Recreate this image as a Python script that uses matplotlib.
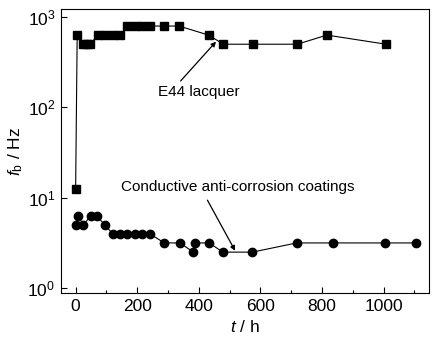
import numpy as np
import matplotlib
matplotlib.use("Agg")
import matplotlib.pyplot as plt

plt.rcParams['font.family'] = ['Liberation Sans', 'DejaVu Sans']
plt.rcParams['mathtext.fontset'] = 'custom'
plt.rcParams['mathtext.rm'] = 'Liberation Sans'
plt.rcParams['mathtext.it'] = 'Liberation Sans:italic'

# E44 lacquer (squares)
t_lacquer = [0, 5, 24, 36, 48, 72, 96, 120, 144, 168, 192, 216, 240,
             288, 336, 432, 480, 576, 720, 816, 1008]
f_lacquer = [12.6, 631, 500, 500, 500, 631, 631, 631, 631, 794, 794, 794, 794,
             794, 794, 631, 500, 500, 500, 631, 500]

# Conductive anti-corrosion coatings (circles)
t_coat = [0, 8, 25, 49, 68, 95, 120, 144, 168, 192, 216, 240,
          288, 339, 382, 387, 434, 478, 574, 718, 837, 1006, 1104]
f_coat = [5.0, 6.3, 5.0, 6.3, 6.3, 5.0, 4.0, 4.0, 4.0, 4.0, 4.0, 4.0,
          3.16, 3.16, 2.5, 3.16, 3.16, 2.5, 2.5, 3.16, 3.16, 3.16, 3.16]

fig = plt.figure(figsize=(4.41, 3.42), dpi=100)
ax = fig.add_axes([0.138, 0.143, 0.835, 0.831])

ax.plot(t_lacquer, f_lacquer, 's-', color='black', lw=0.8, ms=5.4)
ax.plot(t_coat, f_coat, 'o-', color='black', lw=0.8, ms=6)

ax.set_yscale('log')
ax.set_xlim(-48, 1148)
ax.set_ylim(0.88, 1230)
ax.set_xticks([0, 200, 400, 600, 800, 1000])
ax.set_xticks(np.arange(100, 1200, 200), minor=True)
ax.set_yticks([1, 10, 100, 1000])
ax.set_yticklabels([r'$10^{0}$', r'$10^{1}$', r'$10^{2}$', r'$10^{3}$'])
ax.yaxis.set_minor_locator(matplotlib.ticker.NullLocator())
ax.tick_params(direction='in', labelsize=12.5, length=4, width=0.8, pad=4)
ax.tick_params(which='minor', direction='in', length=2.5, width=0.8)

ax.set_xlabel(r'$t$ / h', fontsize=12.5, labelpad=4)
ax.set_ylabel(r'$f$$_\mathrm{b}$ / Hz', fontsize=12.5, labelpad=2)

# annotations
ax.text(268, 148, 'E44 lacquer', fontsize=11, ha='left', va='center')
ax.annotate('', xy=(456, 534), xytext=(341, 196),
            arrowprops=dict(arrowstyle='-|>', color='black', lw=0.9,
                            mutation_scale=7, shrinkA=0, shrinkB=0))
ax.text(528, 13.2, 'Conductive anti-corrosion coatings', fontsize=11,
        ha='center', va='center')
ax.annotate('', xy=(518, 2.59), xytext=(428, 9.4),
            arrowprops=dict(arrowstyle='-|>', color='black', lw=0.9,
                            mutation_scale=7, shrinkA=0, shrinkB=0))

fig.savefig('out.png', dpi=100)
